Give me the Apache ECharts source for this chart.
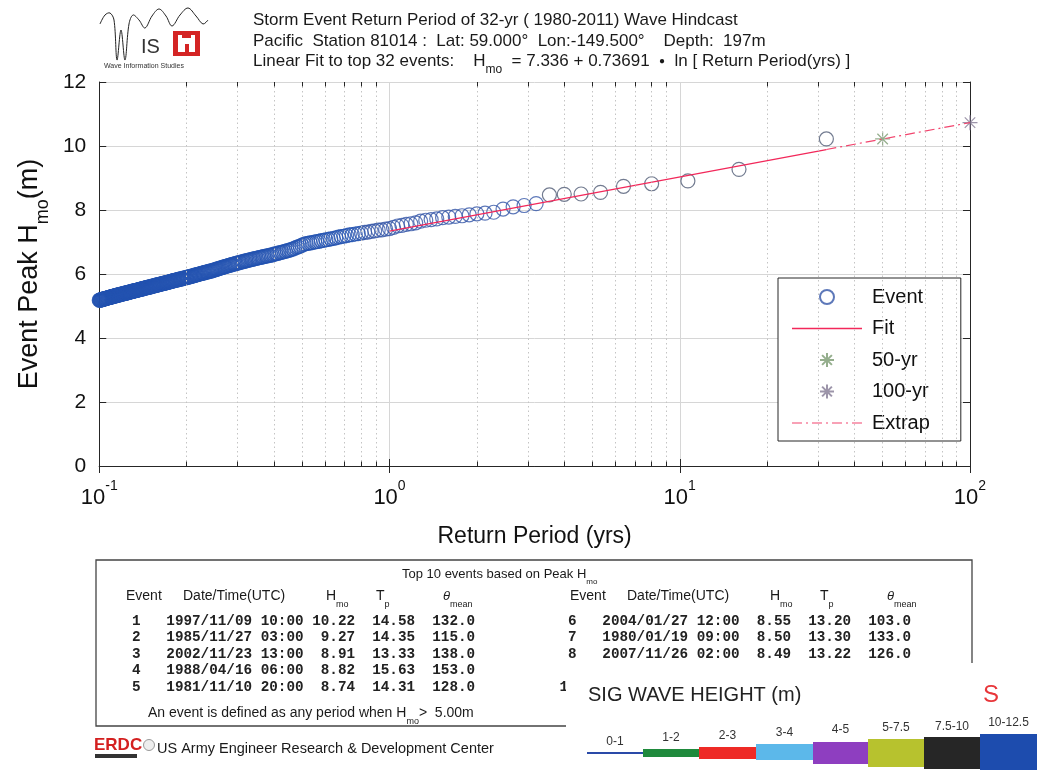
<!DOCTYPE html>
<html>
<head>
<meta charset="utf-8">
<script src="https://cdn.jsdelivr.net/npm/echarts@6/dist/echarts.min.js"></script>
<style>
html, body { margin: 0; padding: 0; background: #fff; }
#chart { width: 1041px; height: 770px; }
</style>
</head>
<body>
<div id="chart"></div>
<script>
var FONT = '"Liberation Sans", Arial, sans-serif';
var MONO = '"Liberation Mono", "DejaVu Sans Mono", monospace';

// hindcast length, return period of event rank i is years / i
var years = 32;

// peak Hmo of each storm event, largest first
var eventHmo = [
  10.22, 9.27, 8.91, 8.82, 8.74, 8.55, 8.50, 8.49, 8.47, 8.20,
  8.14, 8.10, 8.03, 7.93, 7.90, 7.88, 7.85, 7.82, 7.80, 7.78,
  7.76, 7.72, 7.70, 7.68, 7.65, 7.60, 7.57, 7.55, 7.52, 7.50,
  7.46, 7.42,
  7.40, 7.38, 7.37, 7.35, 7.33, 7.31, 7.30, 7.28,
  7.26, 7.25, 7.23, 7.22, 7.20, 7.18, 7.17, 7.15, 7.13, 7.11,
  7.10, 7.08, 7.07, 7.05, 7.04, 7.02, 7.01, 7.00, 6.98, 6.97, 6.96, 6.95, 6.93, 6.90,
  6.87, 6.85, 6.83, 6.80, 6.78, 6.76, 6.74, 6.73, 6.71, 6.70, 6.68, 6.67, 6.66, 6.64, 6.63, 6.62,
  6.60, 6.59, 6.58, 6.57, 6.56, 6.55, 6.54, 6.53, 6.52, 6.51,
  6.50, 6.49, 6.48, 6.47, 6.46, 6.45, 6.44, 6.43, 6.42, 6.41,
  6.40, 6.39, 6.38, 6.37, 6.36, 6.35, 6.34, 6.33, 6.32, 6.31,
  6.30, 6.29, 6.28, 6.27, 6.26, 6.25, 6.24, 6.23, 6.22, 6.21,
  6.20, 6.19, 6.18, 6.17, 6.16, 6.15, 6.14, 6.13, 6.12, 6.11,
  6.10, 6.09, 6.09, 6.08, 6.07, 6.06, 6.06, 6.05, 6.04, 6.03,
  6.03, 6.02, 6.01, 6.00, 6.00, 5.99, 5.98, 5.97, 5.97, 5.96,
  5.95, 5.94, 5.94, 5.93, 5.92, 5.92, 5.91, 5.90, 5.90, 5.89,
  5.88, 5.88, 5.87, 5.87, 5.86, 5.85, 5.85, 5.84, 5.84, 5.83,
  5.83, 5.82, 5.81, 5.81, 5.80, 5.80, 5.79, 5.79, 5.78, 5.77,
  5.77, 5.76, 5.76, 5.75, 5.74, 5.74, 5.73, 5.73, 5.72, 5.72,
  5.71, 5.71, 5.70, 5.70, 5.69, 5.69, 5.68, 5.68, 5.67, 5.67,
  5.66, 5.66, 5.65, 5.65, 5.64, 5.64, 5.63, 5.63, 5.62, 5.62,
  5.61, 5.61, 5.60, 5.60, 5.59, 5.59, 5.58, 5.58, 5.58, 5.57,
  5.57, 5.56, 5.56, 5.55, 5.55, 5.54, 5.54, 5.53, 5.53, 5.53,
  5.52, 5.52, 5.51, 5.51, 5.50, 5.50, 5.49, 5.49, 5.49, 5.48,
  5.48, 5.47, 5.47, 5.47, 5.46, 5.46, 5.45, 5.45, 5.45, 5.44,
  5.44, 5.43, 5.43, 5.42, 5.42, 5.42, 5.41, 5.41, 5.40, 5.40,
  5.40, 5.39, 5.39, 5.39, 5.38, 5.38, 5.37, 5.37, 5.37, 5.36,
  5.36, 5.36, 5.35, 5.35, 5.34, 5.34, 5.34, 5.33, 5.33, 5.33,
  5.32, 5.32, 5.31, 5.31, 5.31, 5.30, 5.30, 5.30, 5.29, 5.29,
  5.28, 5.28, 5.28, 5.27, 5.27, 5.27, 5.26, 5.26, 5.25, 5.25,
  5.25, 5.24, 5.24, 5.24, 5.23, 5.23, 5.22, 5.22, 5.22, 5.21,
  5.21, 5.21, 5.20, 5.20, 5.19, 5.19, 5.19, 5.18, 5.18, 5.18
];

// linear fit (solid) and its extrapolation (dash-dot)
var fitPeriod = [1, 32];
var fitHmo = [7.34, 9.89];
var extrapPeriod = [32, 100];
var extrapHmo = [9.89, 10.73];
var rl50 = [50, 10.22];
var rl100 = [100, 10.73];

var xMinorTicks = [0.2, 0.3, 0.4, 0.5, 0.6, 0.7, 0.8, 0.9,
                   2, 3, 4, 5, 6, 7, 8, 9,
                   20, 30, 40, 50, 60, 70, 80, 90];

// top 10 table
var topEvents = [
  [1, '1997/11/09 10:00', 10.22, 14.58, 132.0],
  [2, '1985/11/27 03:00', 9.27, 14.35, 115.0],
  [3, '2002/11/23 13:00', 8.91, 13.33, 138.0],
  [4, '1988/04/16 06:00', 8.82, 15.63, 153.0],
  [5, '1981/11/10 20:00', 8.74, 14.31, 128.0],
  [6, '2004/01/27 12:00', 8.55, 13.20, 103.0],
  [7, '1980/01/19 09:00', 8.50, 13.30, 133.0],
  [8, '2007/11/26 02:00', 8.49, 13.22, 126.0]
];

var waveBands = ['0-1', '1-2', '2-3', '3-4', '4-5', '5-7.5', '7.5-10', '10-12.5'];
var waveColors = ['#2a4aa8', '#1f8a3c', '#ee2a26', '#5cb8ea', '#8e3ec0', '#b7c22e', '#262626', '#1d4cae'];

var myChart = echarts.init(document.getElementById('chart'));

var eventData = eventHmo.map(function (h, i) {
  var c = i < 9 ? '#4f5a74' : (i < 40 ? '#3556a8' : '#2352b0');
  return { value: [years / (i + 1), h], itemStyle: { borderColor: c } };
});

var starPath = 'path://M10,0L10,20M0,10L20,10M3,3L17,17M3,17L17,3';
var fitIcon = 'path://M0,0H70V1.3H0Z';
var extrapIcon = 'path://M0,0h10v1.2h-10zM14,0h2v1.2h-2zM20,0h10v1.2h-10zM34,0h2v1.2h-2zM40,0h10v1.2h-10zM54,0h2v1.2h-2zM60,0h10v1.2h-10z';

function txt(x, y, text, size, extra) {
  var st = { text: text, x: 0, y: 0, fontSize: size, fontFamily: FONT, fill: '#1a1a1a', verticalAlign: 'middle', align: 'left' };
  for (var k in (extra || {})) st[k] = extra[k];
  return { type: 'text', x: x, y: y, style: st, silent: true };
}
var subRich = function (fs, lh) {
  return { s: { fontSize: fs, lineHeight: lh, verticalAlign: 'bottom', fontFamily: FONT } };
};

var graphic = [];

// title block
graphic.push(txt(253, 20, 'Storm Event Return Period of 32-yr ( 1980-2011) Wave Hindcast', 17));
graphic.push(txt(253, 41, 'Pacific  Station 81014 :  Lat: 59.000°  Lon:-149.500°    Depth:  197m', 17));
graphic.push(txt(253, 61, 'Linear Fit to top 32 events:    H{s|mo}  = 7.336 + 0.73691  {d|●}  ln [ Return Period(yrs) ]', 17,
  { lineHeight: 30, rich: { s: { fontSize: 12, lineHeight: 12, verticalAlign: 'bottom', fontFamily: FONT }, d: { fontSize: 10, fontFamily: FONT } } }));

// WIS logo
graphic.push({ type: 'polyline', silent: true, shape: { smooth: 0.35, points: [
  [100, 24], [105, 15], [110, 13], [114, 20], [117, 60], [121, 30], [125, 60], [129, 24], [133, 15],
  [139, 20], [145, 28], [152, 16], [159, 9], [166, 16], [172, 26], [180, 15], [188, 8], [196, 16], [203, 24], [208, 20]
] }, style: { stroke: '#222', lineWidth: 1, fill: null } });
graphic.push(txt(141, 47, 'IS', 20, { fill: '#333' }));
graphic.push({ type: 'rect', silent: true, shape: { x: 173, y: 31, width: 27, height: 25 }, style: { fill: '#d42424' } });
graphic.push({ type: 'rect', silent: true, shape: { x: 178, y: 38, width: 17, height: 14 }, style: { fill: '#fff' } });
graphic.push({ type: 'rect', silent: true, shape: { x: 178, y: 35, width: 4, height: 4 }, style: { fill: '#fff' } });
graphic.push({ type: 'rect', silent: true, shape: { x: 191, y: 35, width: 4, height: 4 }, style: { fill: '#fff' } });
graphic.push({ type: 'rect', silent: true, shape: { x: 185, y: 44, width: 4, height: 8 }, style: { fill: '#d42424' } });
graphic.push(txt(104, 66, 'Wave Information Studies', 7, { fill: '#333' }));

// table box
graphic.push({ type: 'rect', silent: true, shape: { x: 96, y: 560, width: 876, height: 166 }, style: { fill: null, stroke: '#444', lineWidth: 1.3 } });
graphic.push(txt(402, 574, 'Top 10 events based on Peak H{s|mo}', 13, { lineHeight: 24, rich: subRich(8, 8) }));
[0, 444].forEach(function (dx) {
  graphic.push(txt(126 + dx, 596, 'Event', 14));
  graphic.push(txt(183 + dx, 596, 'Date/Time(UTC)', 14));
  graphic.push(txt(326 + dx, 596, 'H{s|mo}', 14, { lineHeight: 26, rich: subRich(9, 9) }));
  graphic.push(txt(376 + dx, 596, 'T{s|p}', 14, { lineHeight: 26, rich: subRich(9, 9) }));
  graphic.push(txt(443 + dx, 596, '{i|θ}{s|mean}', 14, { lineHeight: 26, rich: { i: { fontSize: 13, fontStyle: 'italic', fontFamily: FONT }, s: { fontSize: 9, lineHeight: 9, verticalAlign: 'bottom', fontFamily: FONT } } }));
});
var rowY = [621, 637, 654, 670, 687];
topEvents.forEach(function (r, i) {
  var line = String(r[0]).padStart(2, ' ') + '   ' + r[1] + ' ' + r[2].toFixed(2).padStart(5, ' ') + '  ' +
    r[3].toFixed(2).padStart(5, ' ') + '  ' + r[4].toFixed(1).padStart(5, ' ');
  var x = i < 5 ? 123.4 : 559.4;
  graphic.push(txt(x, rowY[i % 5], line, 14.3, { fontFamily: MONO, fontWeight: 'bold', fill: '#222' }));
});
graphic.push(txt(559.4, rowY[3], ' 9', 14.3, { fontFamily: MONO, fontWeight: 'bold', fill: '#222' }));
graphic.push(txt(559.4, rowY[4], '10', 14.3, { fontFamily: MONO, fontWeight: 'bold', fill: '#222' }));
graphic.push(txt(148, 713, 'An event is defined as any period when H{s|mo}>  5.00m', 14, { lineHeight: 26, rich: subRich(9, 9) }));
graphic.forEach(function (g) { g.z = 50; });

// ERDC footer
graphic.push(txt(94, 745, 'ERDC', 17, { fontWeight: 'bold', fill: '#d42020', fontFamily: FONT }));
graphic.push({ type: 'rect', silent: true, shape: { x: 95, y: 754, width: 42, height: 4 }, style: { fill: '#333' } });
graphic.push({ type: 'circle', silent: true, shape: { cx: 149, cy: 745, r: 5.5 }, style: { fill: '#eee', stroke: '#999' } });
graphic.push(txt(157, 749, 'US Army Engineer Research & Development Center', 14.5));

// SIG WAVE HEIGHT colour key, pasted over the table corner
graphic.push({ type: 'rect', silent: true, z: 100, shape: { x: 566, y: 663, width: 480, height: 110 }, style: { fill: '#fff' } });
graphic.push(txt(588, 695, 'SIG WAVE HEIGHT (m)', 20, { fill: '#222' }));
graphic.push(txt(983, 695, 'S', 24, { fill: '#e8363a' }));
var bandX = [587, 643, 699, 756, 813, 868, 924, 980, 1037];
var bandTop = [752, 749, 747, 744, 742, 739, 737, 734];
var bandBot = [754, 757, 759, 760, 764, 767, 769, 772];
var labelY = [742, 738, 736, 733, 730, 728, 727, 723];
waveBands.forEach(function (b, i) {
  graphic.push({ type: 'rect', silent: true, z: 101, shape: { x: bandX[i], y: bandTop[i], width: bandX[i + 1] - bandX[i], height: bandBot[i] - bandTop[i] }, style: { fill: waveColors[i] } });
  graphic.push(txt((bandX[i] + bandX[i + 1]) / 2, labelY[i], b, 12, { align: 'center', fill: '#333' }));
});
graphic.forEach(function (g) { if (g.z === undefined) g.z = 102; });

var option = {
  animation: false,
  backgroundColor: '#fff',
  textStyle: { fontFamily: FONT },
  graphic: graphic,
  grid: { left: 96, right: 71, top: 82, bottom: 304 },
  legend: {
    data: [
      { name: 'Event' },
      { name: 'Fit', icon: fitIcon, itemStyle: { color: '#f2285a', borderWidth: 0 } },
      { name: '50-yr' },
      { name: '100-yr' },
      { name: 'Extrap', icon: extrapIcon, itemStyle: { color: '#f2456e', borderWidth: 0 } }
    ],
    orient: 'vertical', left: 778, top: 278,
    itemWidth: 70, itemHeight: 14, itemGap: 9.5,
    padding: [8, 31, 7, 14],
    borderColor: '#262626', borderWidth: 1, backgroundColor: '#fff',
    selectedMode: false,
    textStyle: { fontSize: 20, fontFamily: FONT, color: '#111', lineHeight: 22, padding: [0, 0, 0, 5] }
  },
  xAxis: [{
    type: 'log', logBase: 10, min: 0.1, max: 100,
    name: 'Return Period (yrs)', nameLocation: 'middle', nameGap: 59,
    nameTextStyle: { fontSize: 23, fontFamily: FONT, color: '#111' },
    axisLine: { lineStyle: { color: '#262626', width: 1 } },
    axisTick: { inside: true, length: 7, lineStyle: { color: '#262626' } },
    axisLabel: {
      margin: 13, color: '#111',
      formatter: function (v) { return '{b|10}{e|' + Math.round(Math.log10(v)) + '}'; },
      rich: {
        b: { fontSize: 22, lineHeight: 30, verticalAlign: 'bottom', fontFamily: FONT, color: '#111' },
        e: { fontSize: 14, lineHeight: 10, verticalAlign: 'top', fontFamily: FONT, color: '#111' }
      }
    },
    splitLine: { show: true, lineStyle: { color: '#d6d6d6', width: 1 } }
  }, {
    type: 'log', logBase: 10, min: 0.1, max: 100, position: 'top',
    axisLine: { lineStyle: { color: '#262626', width: 1 } },
    axisTick: { inside: true, length: 7, lineStyle: { color: '#262626' } },
    axisLabel: { show: false }, splitLine: { show: false }
  }],
  yAxis: [{
    type: 'value', min: 0, max: 12, interval: 2,
    name: 'Event Peak H{s|mo}(m)', nameLocation: 'middle', nameGap: 45, nameRotate: 90,
    nameTextStyle: { fontSize: 27, fontFamily: FONT, color: '#111', lineHeight: 44,
      rich: { s: { fontSize: 18, lineHeight: 18, verticalAlign: 'bottom', fontFamily: FONT, color: '#111' } } },
    axisLine: { show: true, lineStyle: { color: '#262626', width: 1 } },
    axisTick: { show: true, inside: true, length: 7, lineStyle: { color: '#262626' } },
    axisLabel: { fontSize: 21, margin: 13, color: '#111', fontFamily: FONT },
    splitLine: { show: true, lineStyle: { color: '#d6d6d6', width: 1 } }
  }, {
    type: 'value', min: 0, max: 12, interval: 2, position: 'right',
    axisLine: { show: true, lineStyle: { color: '#262626', width: 1 } },
    axisTick: { show: true, inside: true, length: 7, lineStyle: { color: '#262626' } },
    axisLabel: { show: false }, splitLine: { show: false }
  }],
  series: [
    {
      name: 'minorGrid', type: 'line', data: [], silent: true,
      markLine: {
        silent: true, symbol: 'none', label: { show: false }, animation: false,
        lineStyle: { type: [1.5, 3], color: '#c4c4c4', width: 1 },
        emphasis: { disabled: true },
        data: xMinorTicks.map(function (v) { return { xAxis: v }; })
      }
    },
    {
      name: 'minorTicks', type: 'line', data: [], silent: true,
      markLine: {
        silent: true, symbol: 'none', label: { show: false }, animation: false,
        lineStyle: { type: 'solid', color: '#262626', width: 1 },
        emphasis: { disabled: true },
        data: xMinorTicks.reduce(function (acc, v) {
          acc.push([{ coord: [v, 0] }, { coord: [v, 0.14] }]);
          acc.push([{ coord: [v, 12] }, { coord: [v, 11.86] }]);
          return acc;
        }, [])
      }
    },
    {
      name: 'Event', type: 'scatter', data: eventData,
      symbol: 'circle', symbolSize: 14,
      itemStyle: { color: 'transparent', borderColor: '#3556a8', borderWidth: 1.2 }
    },
    {
      name: 'Fit', type: 'line',
      data: fitPeriod.map(function (p, i) { return [p, fitHmo[i]]; }),
      symbol: 'none', lineStyle: { color: '#f2285a', width: 1.3 }, itemStyle: { color: '#f2285a' }
    },
    {
      name: 'Extrap', type: 'line',
      data: extrapPeriod.map(function (p, i) { return [p, extrapHmo[i]]; }),
      symbol: 'none', lineStyle: { color: '#f2456e', width: 1.2, type: [10, 4, 2, 4] }, itemStyle: { color: '#f2456e' }
    },
    {
      name: '50-yr', type: 'scatter', data: [rl50], symbol: starPath, symbolSize: 15,
      itemStyle: { color: 'transparent', borderColor: '#7a9a70', borderWidth: 1.2 }
    },
    {
      name: '100-yr', type: 'scatter', data: [rl100], symbol: starPath, symbolSize: 15,
      itemStyle: { color: 'transparent', borderColor: '#857a95', borderWidth: 1.2 }
    }
  ]
};

myChart.setOption(option);
</script>
</body>
</html>
